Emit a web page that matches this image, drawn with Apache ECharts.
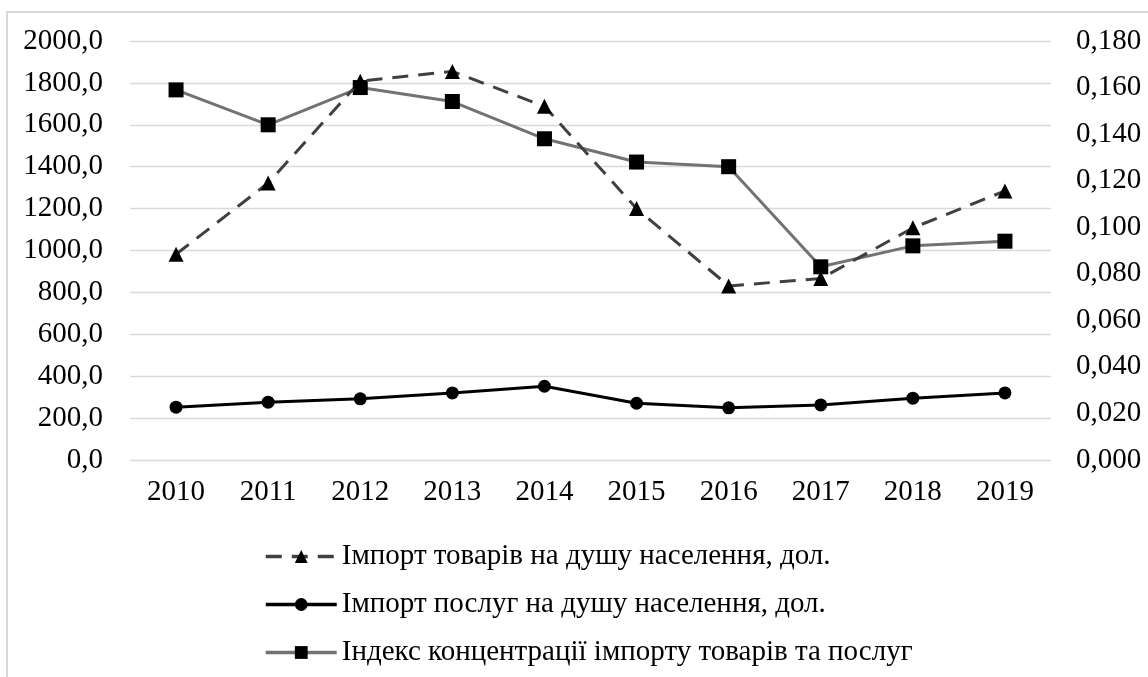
<!DOCTYPE html>
<html>
<head>
<meta charset="utf-8">
<script src="https://cdn.jsdelivr.net/npm/echarts@6/dist/echarts.min.js"></script>
<style>
  html, body { margin: 0; padding: 0; background: #fff; }
  #chart { width: 1148px; height: 677px; }
</style>
</head>
<body>
<div id="chart"></div>
<script>
// chart data
const years = ['2010', '2011', '2012', '2013', '2014', '2015', '2016', '2017', '2018', '2019']
const goodsImport = [982, 1322, 1808, 1855, 1688, 1200, 831, 866, 1108, 1284]
const servicesImport = [252, 276, 292, 320, 352, 271, 249, 263, 295, 320]
const concentrationIndex = [0.159, 0.144, 0.160, 0.154, 0.138, 0.128, 0.126, 0.083, 0.092, 0.094]
const seriesNames = [
  'Імпорт товарів на душу населення, дол.',
  'Імпорт послуг на душу населення, дол.',
  'Індекс концентрації імпорту товарів та послуг'
]

const font = 'Liberation Serif'

const chart = echarts.init(document.getElementById('chart'))
chart.setOption({
  animation: false,
  textStyle: { fontFamily: font },
  graphic: [
    {
      type: 'rect',
      silent: true,
      shape: { x: 7, y: 12, width: 1160, height: 700 },
      style: { fill: 'none', stroke: '#d9d9d9', lineWidth: 2 }
    }
  ],
  grid: { left: 130, right: 97, top: 41, bottom: 217 },
  legend: {
    orient: 'vertical',
    left: 259,
    top: 536,
    itemWidth: 71,
    itemHeight: 16,
    itemGap: 17,
    data: seriesNames,
    lineStyle: { width: 3.5 },
    textStyle: { fontFamily: font, fontSize: 29, color: '#000', lineHeight: 31 }
  },
  xAxis: {
    type: 'category',
    data: years,
    axisLine: { show: false },
    axisTick: { show: false },
    axisLabel: { fontFamily: font, fontSize: 29, color: '#000', margin: 18 }
  },
  yAxis: [
    {
      type: 'value',
      min: 0,
      max: 2000,
      interval: 200,
      axisLine: { show: false },
      axisTick: { show: false },
      splitLine: { lineStyle: { color: '#d9d9d9', width: 1.3 } },
      axisLabel: {
        fontFamily: font, fontSize: 29, color: '#000', margin: 27,
        formatter: v => v.toFixed(1).replace('.', ',')
      }
    },
    {
      type: 'value',
      min: 0,
      max: 0.18,
      interval: 0.02,
      axisLine: { show: false },
      axisTick: { show: false },
      splitLine: { show: false },
      axisLabel: {
        fontFamily: font, fontSize: 29, color: '#000', margin: 25,
        formatter: v => v.toFixed(3).replace('.', ',')
      }
    }
  ],
  series: [
    {
      name: seriesNames[2],
      type: 'line',
      yAxisIndex: 1,
      data: concentrationIndex,
      symbol: 'rect',
      symbolSize: 15,
      itemStyle: { color: '#000' },
      lineStyle: { color: '#767171', width: 3 },
      z: 2
    },
    {
      name: seriesNames[0],
      type: 'line',
      data: goodsImport,
      symbol: 'triangle',
      symbolSize: 15,
      itemStyle: { color: '#000' },
      lineStyle: { color: '#404040', width: 3, type: [16, 10] },
      z: 3
    },
    {
      name: seriesNames[1],
      type: 'line',
      data: servicesImport,
      symbol: 'circle',
      symbolSize: 13,
      itemStyle: { color: '#000' },
      lineStyle: { color: '#000', width: 3 },
      z: 4
    }
  ]
})
</script>
</body>
</html>
